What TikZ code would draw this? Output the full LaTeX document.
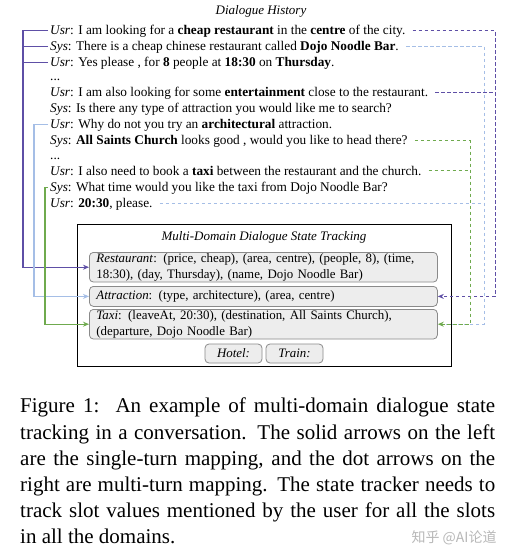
\documentclass[tikz,border=0pt]{standalone}
\usepackage{fontspec}
\setmainfont{Liberation Serif}
\newfontfamily\cjk{Noto Sans CJK SC}
\usetikzlibrary{arrows.meta}
\definecolor{pur}{HTML}{5E4FA6}
\definecolor{lblue}{HTML}{A5BEE6}
\definecolor{grn}{HTML}{6FAA4E}
\definecolor{slotfill}{HTML}{EDEDED}
\definecolor{slotdraw}{HTML}{8A8A8A}
\begin{document}
\begin{tikzpicture}[x=1pt,y=-1pt,
  ln/.style={anchor=base west,inner sep=0pt,font=\fontsize{13.3}{15}\selectfont},
  slot/.style={draw=slotdraw,fill=slotfill,rounded corners=4pt,line width=0.8pt,
    font=\fontsize{12.9}{15.5}\selectfont},
  solidc/.style={line width=1.1pt},
  dashc/.style={line width=1pt,dash pattern=on 3.5pt off 2.5pt},
  tip/.style={-{Stealth[length=6pt,width=5pt]}}]
\useasboundingbox[fill=white] (0,0) rectangle (513,560);

% dialogue history
\node[font=\itshape\fontsize{13}{15}\selectfont] (hist) at (261,11) {Dialogue History};
\node[ln] (l1) at (50,34) {\textit{Usr}: I am looking for a \textbf{cheap restaurant} in the \textbf{centre} of the city.};
\node[ln] (l2) at (50,50) {\textit{Sys}: There is a cheap chinese restaurant called \textbf{Dojo Noodle Bar}.};
\node[ln] (l3) at (50,66) {\textit{Usr}: Yes please , for \textbf{8} people at \textbf{18:30} on \textbf{Thursday}.};
\node[ln] (l4) at (50,80) {...};
\node[ln] (l5) at (50,96) {\textit{Usr}: I am also looking for some \textbf{entertainment} close to the restaurant.};
\node[ln] (l6) at (50,112) {\textit{Sys}: Is there any type of attraction you would like me to search?};
\node[ln] (l7) at (50,128) {\textit{Usr}: Why do not you try an \textbf{architectural} attraction.};
\node[ln] (l8) at (50,144) {\textit{Sys}: \textbf{All Saints Church} looks good , would you like to head there?};
\node[ln] (l9) at (50,159) {...};
\node[ln] (l10) at (50,175) {\textit{Usr}: I also need to book a \textbf{taxi} between the restaurant and the church.};
\node[ln] (l11) at (50,191) {\textit{Sys}: What time would you like the taxi from Dojo Noodle Bar?};
\node[ln] (l12) at (50,207) {\textit{Usr}: \textbf{20:30}, please.};

% state tracking box
\node[draw,line width=1.2pt,anchor=north west,minimum width=374pt,minimum height=142pt,inner sep=0pt] (dst) at (77,224) {};
\node[font=\itshape\fontsize{13}{15}\selectfont] (dsttitle) at (264,237) {Multi-Domain Dialogue State Tracking};
\node[slot,anchor=north west,text width=334pt,inner xsep=7pt,inner ysep=1.2pt,align=left] (rest) at (89,252)
  {\textit{Restaurant}: (price, cheap), (area, centre), (people, 8), (time,\\ 18:30), (day, Thursday), (name, Dojo Noodle Bar)};
\node[slot,anchor=north west,text width=334pt,inner xsep=7pt,inner ysep=1.5pt,align=left,minimum height=20pt] (attr) at (89,286)
  {\textit{Attraction}: (type, architecture), (area, centre)};
\node[slot,anchor=north west,text width=334pt,inner xsep=7pt,inner ysep=1.2pt,align=left] (taxi) at (89,309)
  {\textit{Taxi}: (leaveAt, 20:30), (destination, All Saints Church),\\ (departure, Dojo Noodle Bar)};
\node[slot,minimum width=57pt,minimum height=19pt,inner sep=0pt] (hotel) at (233.5,353.5) {\textit{Hotel:}};
\node[slot,minimum width=57pt,minimum height=19pt,inner sep=0pt] (train) at (294.5,353.5) {\textit{Train:}};

% left (single-turn) connectors
\coordinate (pL) at (25,0);
\coordinate (bL) at (36,0);
\coordinate (gL) at (47,0);
\draw[pur,solidc,tip] ([xshift=-2pt]l1.west) -- ([xshift=-2pt]l1.west -| pL) |- (rest.west);
\draw[pur,solidc] ([xshift=-2pt]l2.west) -- ([xshift=-2pt]l2.west -| pL);
\draw[pur,solidc] ([xshift=-2pt]l3.west) -- ([xshift=-2pt]l3.west -| pL);
\draw[lblue,solidc,tip] ([xshift=-2pt]l7.west) -- ([xshift=-2pt]l7.west -| bL) |- (attr.west);
\draw[grn,solidc,tip] ([xshift=-2pt]l11.west) -- ([xshift=-2pt]l11.west -| gL) |- (taxi.west);

% right (multi-turn) connectors
\coordinate (pR) at (488,0);
\coordinate (bR) at (477,0);
\coordinate (gR) at (463,0);
\draw[lblue,dashc] ([xshift=7pt]l2.east) -- ([xshift=7pt]l2.east -| bR) |- (taxi.east);
\draw[lblue,dashc] ([xshift=7pt]l12.east) -- ([xshift=7pt]l12.east -| bR);
\draw[pur,dashc,tip] ([xshift=7pt]l1.east) -- ([xshift=7pt]l1.east -| pR) |- (attr.east);
\draw[pur,dashc] ([xshift=7pt]l5.east) -- ([xshift=7pt]l5.east -| pR);
\draw[grn,dashc,tip] ([xshift=7pt]l8.east) -- ([xshift=7pt]l8.east -| gR) |- (taxi.east);
\draw[grn,dashc] ([xshift=7pt]l10.east) -- ([xshift=7pt]l10.east -| gR);

% caption
\node[anchor=north west,text width=475pt,align=justify,inner sep=0pt,font=\fontsize{21}{26.2}\selectfont] (cap) at (20,398)
  {Figure 1:\ \ An example of multi-domain dialogue state\linebreak
   tracking in a conversation. The solid arrows on the left\linebreak
   are the single-turn mapping, and the dot arrows on the\linebreak
   right are multi-turn mapping. The state tracker needs to\linebreak
   track slot values mentioned by the user for all the slots\linebreak
   in all the domains.};
\node[font=\cjk\fontsize{14}{14}\selectfont,text=black!28] (wm) at (454,538) {知乎 @AI论道};
\end{tikzpicture}
\end{document}
